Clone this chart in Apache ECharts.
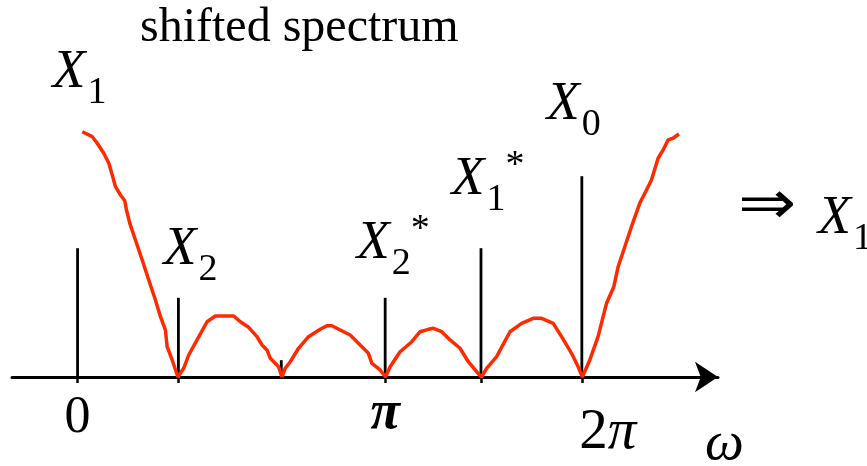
<!DOCTYPE html>
<html>
<head>
<meta charset="utf-8">
<script src="https://cdn.jsdelivr.net/npm/echarts@6/dist/echarts.min.js"></script>
<style>
  html, body { margin: 0; padding: 0; background: #ffffff; }
  #chart { width: 867px; height: 466px; }
</style>
</head>
<body>
<div id="chart"></div>
<script>
// Line spectrum: stem positions (plot units along ω) and magnitudes
const stemW   = [0, 1, 3.05, 4.0, 5.0];
const stemMag = [1.61, 0.99, 0.99, 1.61, 2.51];
const stemSub = ['1', '2', '2', '1', '0'];
const stemConj = [false, false, true, true, false];

// short marker between X2 and X2*
const markW   = [2.02];
const markMag = [0.21];

// shifted continuous spectrum |X(ω)| (red trace)
const curveW = [
  0.047, 0.146, 0.195, 0.260, 0.310, 0.344, 0.376, 0.426, 0.468, 0.485,
  0.518, 0.574, 0.641, 0.706, 0.772, 0.822, 0.871, 0.888, 0.938, 0.995,
  1.052, 1.102, 1.185, 1.284, 1.366, 1.548, 1.614, 1.696, 1.779, 1.829,
  1.878, 1.911, 1.993, 2.027,
  2.059, 2.109, 2.191, 2.290, 2.406, 2.472, 2.522, 2.604, 2.703, 2.802,
  2.884, 2.918, 3.000, 3.054,
  3.099, 3.198, 3.314, 3.396, 3.478, 3.528, 3.611, 3.693, 3.792, 3.874,
  3.957, 4.005,
  4.056, 4.155, 4.287, 4.403, 4.518, 4.601, 4.716, 4.799, 4.898, 4.963,
  5.005,
  5.079, 5.161, 5.211, 5.245, 5.317, 5.360, 5.426, 5.492, 5.574, 5.641,
  5.690, 5.756, 5.806, 5.855, 5.904, 5.963
];
const curveMag = [
  3.066, 3.004, 2.921, 2.796, 2.671, 2.525, 2.379, 2.275, 2.204, 2.088,
  1.921, 1.713, 1.463, 1.213, 0.963, 0.754, 0.588, 0.379, 0.213, 0.000,
  0.109, 0.275, 0.463, 0.691, 0.763, 0.763, 0.691, 0.621, 0.504, 0.400,
  0.338, 0.234, 0.129, 0.000,
  0.109, 0.191, 0.359, 0.504, 0.596, 0.641, 0.641, 0.588, 0.525, 0.400,
  0.296, 0.171, 0.088, 0.000,
  0.129, 0.316, 0.441, 0.566, 0.596, 0.609, 0.566, 0.463, 0.359, 0.191,
  0.066, 0.000,
  0.109, 0.254, 0.566, 0.671, 0.734, 0.734, 0.671, 0.504, 0.296, 0.129,
  0.000,
  0.213, 0.504, 0.754, 0.921, 1.129, 1.379, 1.629, 1.879, 2.171, 2.338,
  2.463, 2.734, 2.838, 2.963, 2.984, 3.038
];

// axis ticks and labels
const tickW = [0, 1, 3.05, 4.0, 5.0];
const labelW = [0, 3.05, 5.0];
const labelText = ['0', 'π', '2π'];

const SERIF = '"Liberation Serif", "Times New Roman", serif';
const RED = '#ff2a00';

// label placement for each stem label (dx, dy from the stem top)
const stemLabelShift = [[2, -131], [12, -4], [8, -10], [7, -24], [-8, -27]];

const symRich = {
  x: { fontFamily: SERIF, fontStyle: 'italic', fontSize: 54, lineHeight: 54,
       padding: [0, 0, 12, 0], verticalAlign: 'bottom', color: '#000' },
  s: { fontFamily: SERIF, fontSize: 38, lineHeight: 38,
       padding: [0, 0, 0, 2], verticalAlign: 'bottom', color: '#000' },
  p: { fontFamily: SERIF, fontSize: 38, lineHeight: 38,
       padding: [0, 0, 34, 0], verticalAlign: 'bottom', color: '#000' }
};

const stemData = stemW.map((w, i) => ({
  value: [w, stemMag[i]],
  label: {
    show: true,
    position: 'top',
    offset: stemLabelShift[i],
    formatter: '{x|X}{s|' + stemSub[i] + '}' + (stemConj[i] ? '{p|*}' : ''),
    rich: symRich
  }
})).concat(markW.map((w, i) => ({ value: [w, markMag[i]], label: { show: false } })));

const chart = echarts.init(document.getElementById('chart'), null, { renderer: 'canvas' });

chart.setOption({
  animation: false,
  backgroundColor: '#ffffff',
  title: {
    text: 'shifted spectrum',
    left: 140,
    top: 4,
    padding: 0,
    textStyle: { fontFamily: SERIF, fontSize: 48, fontWeight: 'normal', color: '#000' }
  },
  grid: { left: 12, right: 149, top: 97, bottom: 89, containLabel: false, outerBoundsMode: 'none' },
  xAxis: {
    type: 'value',
    min: -0.65,
    max: 6.35,
    name: 'ω',
    nameLocation: 'end',
    nameGap: -13,
    nameTextStyle: {
      fontFamily: SERIF, fontStyle: 'italic', fontSize: 55, color: '#000',
      verticalAlign: 'top', padding: [40, 0, 0, 0]
    },
    axisLine: {
      show: true,
      symbol: ['none', 'arrow'],
      symbolSize: [23, 23],
      lineStyle: { color: '#000', width: 3 }
    },
    axisTick: {
      show: true,
      customValues: tickW,
      length: 6,
      lineStyle: { color: '#000', width: 2.5 }
    },
    axisLabel: {
      show: true,
      customValues: labelW,
      margin: 10,
      formatter: function (v) {
        let k = 0;
        labelW.forEach((w, i) => { if (Math.abs(w - v) < 1e-6) k = i; });
        const t = labelText[k];
        if (t === '0') return '{z|0}';
        if (t === 'π') return '{q|π}';
        return '{n|2}{r|π}';
      },
      rich: {
        z: { fontFamily: SERIF, fontSize: 52, lineHeight: 52, padding: [11, 0, 0, 0], color: '#000' },
        q: { fontFamily: SERIF, fontStyle: 'italic', fontWeight: 'bold', fontSize: 54, lineHeight: 54, color: '#000' },
        n: { fontFamily: SERIF, fontSize: 57, lineHeight: 57, padding: [35, 0, 0, 52], color: '#000' },
        r: { fontFamily: SERIF, fontStyle: 'italic', fontSize: 57, lineHeight: 57, padding: [35, 0, 0, 0], color: '#000' }
      }
    },
    splitLine: { show: false }
  },
  yAxis: {
    type: 'value',
    min: 0,
    max: 3.5,
    show: false,
    splitLine: { show: false }
  },
  graphic: [
    {
      type: 'text',
      x: 738,
      y: 207,
      scaleX: 1.16,
      style: { text: '⇒', font: '60px "DejaVu Sans"', fill: '#000', align: 'left', verticalAlign: 'middle' }
    },
    {
      type: 'text',
      x: 818,
      y: 258,
      style: {
        text: '{x|X}{s|1}',
        align: 'left',
        verticalAlign: 'bottom',
        rich: symRich
      }
    }
  ],
  series: [
    {
      name: 'lines',
      type: 'bar',
      barWidth: 2.8,
      z: 2,
      itemStyle: { color: '#000' },
      data: stemData
    },
    {
      name: 'spectrum',
      type: 'line',
      z: 3,
      showSymbol: false,
      symbol: 'none',
      smooth: false,
      lineStyle: { color: RED, width: 3.5 },
      data: curveW.map((w, i) => [w, curveMag[i]])
    }
  ]
});
</script>
</body>
</html>
